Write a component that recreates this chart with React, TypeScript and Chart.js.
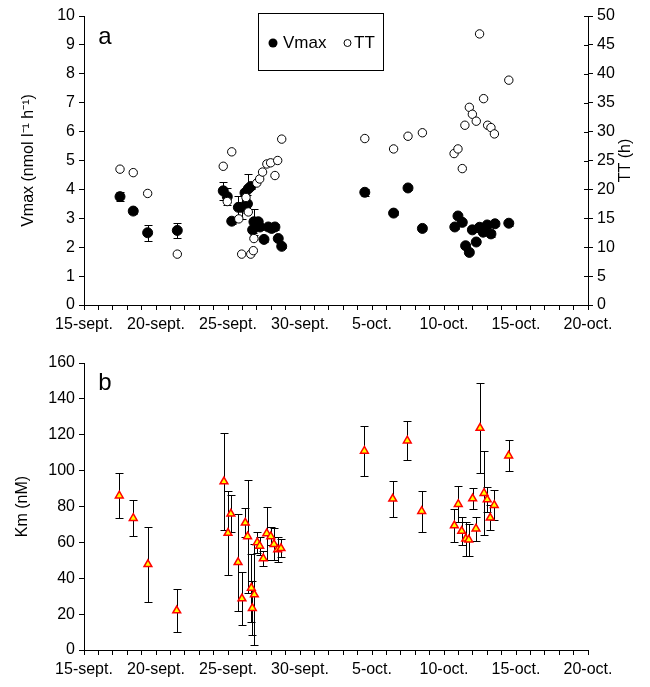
import React, { useEffect, useRef } from 'react';
import { Chart, registerables } from 'chart.js';

Chart.register(...registerables);

// x values: days since 15 September
const X_TICK_LABELS = ['15-sept.', '20-sept.', '25-sept.', '30-sept.', '5-oct.', '10-oct.', '15-oct.', '20-oct.'];

const VMAX_DAY = [2.5, 3.42, 4.42, 6.48, 9.67, 9.95, 10.26, 10.72, 10.95, 11.18, 11.41, 11.58, 11.35, 11.71, 11.8, 12.1, 12.22, 12.5, 12.8, 13.03, 13.26, 13.49, 13.73,
  19.5, 21.5, 22.5, 23.5, 25.75, 25.97, 26.27, 26.5, 26.76, 26.97, 27.24, 27.47, 27.72, 28.0, 28.26, 28.54, 29.5];
const VMAX = [3.75, 3.25, 2.5, 2.58, 3.95, 3.75, 2.9, 3.38, 3.38, 3.88, 4.02, 4.1, 3.5, 2.6, 2.88, 2.88, 2.7, 2.27, 2.7, 2.65, 2.7, 2.3, 2.03,
  3.9, 3.18, 4.05, 2.65, 2.7, 3.08, 2.86, 2.05, 1.82, 2.6, 2.18, 2.69, 2.52, 2.77, 2.46, 2.81, 2.83];
const VMAX_ERR = [0.15, 0.1, 0.27, 0.27, 0.3, 0.3, 0.1, 0.4, 0.4, 0.1, 0.5, 0.1, 0.3, 0.1, 0.45, 0.1, 0.1, 0.08, 0.1, 0.1, 0.1, 0.1, 0.05,
  0.12, 0.08, 0.08, 0.08, 0.08, 0.08, 0.08, 0.05, 0.05, 0.08, 0.05, 0.15, 0.1, 0.1, 0.1, 0.08, 0.08];

const TT_DAY = [2.5, 3.42, 4.42, 6.48, 9.67, 9.95, 10.26, 10.75, 10.95, 11.25, 11.41, 11.58, 11.76, 11.8, 12.0, 12.2, 12.4, 12.7, 12.96, 13.26, 13.45, 13.73,
  19.5, 21.5, 22.5, 23.5, 25.7, 25.97, 26.27, 26.45, 26.76, 26.97, 27.24, 27.47, 27.75, 28.03, 28.26, 28.5, 29.5];
const TT = [23.5, 22.9, 19.3, 8.8, 24, 17.9, 26.5, 14.9, 8.8, 18.6, 16.1, 8.8, 9.4, 11.5, 21.1, 21.8, 23.0, 24.4, 24.6, 22.4, 25, 28.7,
  28.8, 27, 29.2, 29.8, 26.2, 27, 23.6, 31.1, 34.2, 33, 31.8, 46.9, 35.7, 31.1, 30.7, 29.6, 38.9];

const KM_DAY = [2.45, 3.42, 4.44, 6.44, 9.72, 10.0, 10.2, 10.7, 10.97, 11.2, 11.36, 11.62, 11.69, 11.83, 12.03, 12.2, 12.45, 12.69, 12.97, 13.19, 13.45, 13.68,
  19.47, 21.44, 22.45, 23.45, 25.72, 25.99, 26.23, 26.51, 26.72, 26.99, 27.22, 27.5, 27.78, 28.0, 28.21, 28.49, 29.49];
const KM = [86, 73.5, 47.8, 22, 93.9, 65.2, 75.9, 48.9, 28.7, 70.9, 63.3, 34.6, 23.3, 30.9, 60, 58, 51, 65, 63.3, 59, 56, 56.7,
  111, 84.3, 116.7, 77.4, 69.4, 81.3, 66.3, 62, 61.5, 84.4, 67.6, 123.7, 87.4, 83.9, 73.7, 80.7, 108.3];
const KM_ERR = [12.5, 10, 21, 12, 27, 23.5, 10.3, 27, 15, 8, 31.5, 19, 15, 28, 6, 5, 4.3, 15, 5, 9, 7, 5,
  14, 10, 11, 11.5, 9, 10, 8, 9.5, 9, 6, 6.7, 25, 23.5, 7, 7, 8.5, 8.5];

const FONT = "'Liberation Sans', Arial, sans-serif";

function errorBarPlugin(id: string, dsIndex: number, errs: number[], capHalf: number) {
  return {
    id,
    beforeDatasetsDraw(chart: any) {
      const meta = chart.getDatasetMeta(dsIndex);
      const ds = chart.data.datasets[dsIndex];
      const yScale = chart.scales[meta.yAxisID];
      const ctx = chart.ctx;
      ctx.save();
      ctx.strokeStyle = '#000';
      ctx.lineWidth = 1;
      meta.data.forEach((el: any, i: number) => {
        const p = ds.data[i];
        const e = errs[i];
        if (!e) return;
        const x = Math.round(el.x) + 0.5;
        const yt = Math.round(yScale.getPixelForValue(p.y + e)) + 0.5;
        const yb = Math.round(yScale.getPixelForValue(p.y - e)) + 0.5;
        ctx.beginPath();
        ctx.moveTo(x, yt);
        ctx.lineTo(x, yb);
        ctx.moveTo(x - capHalf, yt);
        ctx.lineTo(x + capHalf, yt);
        ctx.moveTo(x - capHalf, yb);
        ctx.lineTo(x + capHalf, yb);
        ctx.stroke();
      });
      ctx.restore();
    },
  };
}

function letterPlugin(letter: string, x: number, y: number) {
  return {
    id: 'letter',
    afterDraw(chart: any) {
      const ctx = chart.ctx;
      ctx.save();
      ctx.fillStyle = '#000';
      ctx.font = `24px ${FONT}`;
      ctx.textAlign = 'center';
      ctx.textBaseline = 'middle';
      ctx.fillText(letter, x, y);
      ctx.restore();
    },
  };
}

const legendPlugin = {
  id: 'boxLegend',
  afterDraw(chart: any) {
    const ctx = chart.ctx;
    ctx.save();
    ctx.strokeStyle = '#000';
    ctx.lineWidth = 1;
    ctx.fillStyle = '#fff';
    ctx.fillRect(258.5, 13.5, 125, 57);
    ctx.strokeRect(258.5, 13.5, 125, 57);
    const cy = 43;
    ctx.fillStyle = '#000';
    ctx.beginPath();
    ctx.arc(273, cy, 4.5, 0, Math.PI * 2);
    ctx.fill();
    ctx.beginPath();
    ctx.fillStyle = '#fff';
    ctx.arc(347.5, cy, 3.5, 0, Math.PI * 2);
    ctx.fill();
    ctx.stroke();
    ctx.fillStyle = '#000';
    ctx.font = `17px ${FONT}`;
    ctx.textAlign = 'left';
    ctx.textBaseline = 'middle';
    ctx.fillText('Vmax', 283, cy);
    ctx.fillText('TT', 354, cy);
    ctx.restore();
  },
};

// right axis: ticks crossing the axis line, and a title reading bottom-to-top
const rightAxisPlugin = {
  id: 'rightAxisExtras',
  afterDraw(chart: any) {
    const s = chart.scales.y2;
    if (!s) return;
    const ctx = chart.ctx;
    ctx.save();
    ctx.strokeStyle = '#000';
    ctx.lineWidth = 1;
    ctx.beginPath();
    s.ticks.forEach((t: any) => {
      const y = Math.round(s.getPixelForValue(t.value)) + 0.5;
      ctx.moveTo(s.left - 4, y);
      ctx.lineTo(s.left, y);
    });
    ctx.stroke();
    ctx.translate(626, (s.top + s.bottom) / 2);
    ctx.rotate(-Math.PI / 2);
    ctx.fillStyle = '#000';
    ctx.font = `16px ${FONT}`;
    ctx.textAlign = 'center';
    ctx.textBaseline = 'middle';
    ctx.fillText('TT (h)', 0, 0);
    ctx.restore();
  },
};

function xScale(height: number) {
  return {
    type: 'linear',
    min: 0,
    max: 35,
    ticks: {
      stepSize: 1,
      autoSkip: false,
      maxRotation: 0,
      color: '#000',
      padding: 5,
      font: { family: FONT, size: 16 },
      callback: (v: number) => (v % 5 === 0 ? X_TICK_LABELS[v / 5] : ''),
    },
    grid: { drawOnChartArea: false, color: '#000', tickLength: 5, tickWidth: 1 },
    border: { color: '#000', width: 1 },
    afterFit: (s: any) => {
      s.height = height;
    },
  };
}

function yScale(min: number, max: number, step: number, title: string, position: string, width: number, titlePad: number) {
  return {
    type: 'linear',
    position,
    min,
    max,
    ticks: {
      stepSize: step,
      color: '#000',
      padding: 4,
      font: { family: FONT, size: 16 },
    },
    grid: { drawOnChartArea: false, color: '#000', tickLength: 5, tickWidth: 1 },
    border: { color: '#000', width: 1 },
    title: {
      display: title !== '',
      text: title,
      color: '#000',
      font: { family: FONT, size: 16 },
      padding: { top: titlePad, bottom: 0 },
    },
    afterFit: (s: any) => {
      s.width = width;
    },
  };
}

function PanelA() {
  const ref = useRef<HTMLCanvasElement>(null);
  useEffect(() => {
    const chart = new Chart(ref.current as HTMLCanvasElement, {
      type: 'scatter',
      data: {
        datasets: [
          {
            label: 'TT',
            data: TT_DAY.map((d, i) => ({ x: d, y: TT[i] })),
            yAxisID: 'y2',
            pointRadius: 4.2,
            pointBackgroundColor: '#fff',
            pointBorderColor: '#000',
            pointBorderWidth: 1,
          },
          {
            label: 'Vmax',
            data: VMAX_DAY.map((d, i) => ({ x: d, y: VMAX[i] })),
            yAxisID: 'y',
            pointRadius: 5,
            pointBackgroundColor: '#000',
            pointBorderColor: '#000',
            pointBorderWidth: 1,
          },
        ],
      } as any,
      options: {
        responsive: false,
        animation: false,
        events: [],
        layout: { padding: { top: 16, left: 0, right: 0, bottom: 0 } },
        plugins: { legend: { display: false }, tooltip: { enabled: false } },
        scales: {
          x: xScale(35),
          y: yScale(0, 10, 1, 'Vmax (nmol l\u207B\u00B9 h\u207B\u00B9)', 'left', 84, 19),
          y2: yScale(0, 50, 5, '', 'right', 62, 0),
        } as any,
      },
      plugins: [errorBarPlugin('errA', 1, VMAX_ERR, 4), rightAxisPlugin, legendPlugin, letterPlugin('a', 105, 37)],
    });
    return () => chart.destroy();
  }, []);
  return <canvas ref={ref} width={650} height={340} style={{ display: 'block' }} />;
}

function PanelB() {
  const ref = useRef<HTMLCanvasElement>(null);
  useEffect(() => {
    const chart = new Chart(ref.current as HTMLCanvasElement, {
      type: 'scatter',
      data: {
        datasets: [
          {
            label: 'Km',
            data: KM_DAY.map((d, i) => ({ x: d, y: KM[i] })),
            yAxisID: 'y',
            pointStyle: 'triangle',
            pointRadius: 4.5,
            pointBackgroundColor: '#FFFF00',
            pointBorderColor: '#FF0000',
            pointBorderWidth: 1.5,
          },
        ],
      } as any,
      options: {
        responsive: false,
        animation: false,
        events: [],
        layout: { padding: { top: 23, left: 0, right: 62, bottom: 0 } },
        plugins: { legend: { display: false }, tooltip: { enabled: false } },
        scales: {
          x: xScale(37),
          y: yScale(0, 160, 20, 'Km (nM)', 'left', 84, 13),
        } as any,
      },
      plugins: [errorBarPlugin('errB', 0, KM_ERR, 4), letterPlugin('b', 105, 43)],
    });
    return () => chart.destroy();
  }, []);
  return <canvas ref={ref} width={650} height={347} style={{ display: 'block' }} />;
}

export default function App() {
  return (
    <div style={{ position: 'absolute', left: 0, top: 0, width: 650, height: 687, background: '#fff' }}>
      <PanelA />
      <PanelB />
    </div>
  );
}
